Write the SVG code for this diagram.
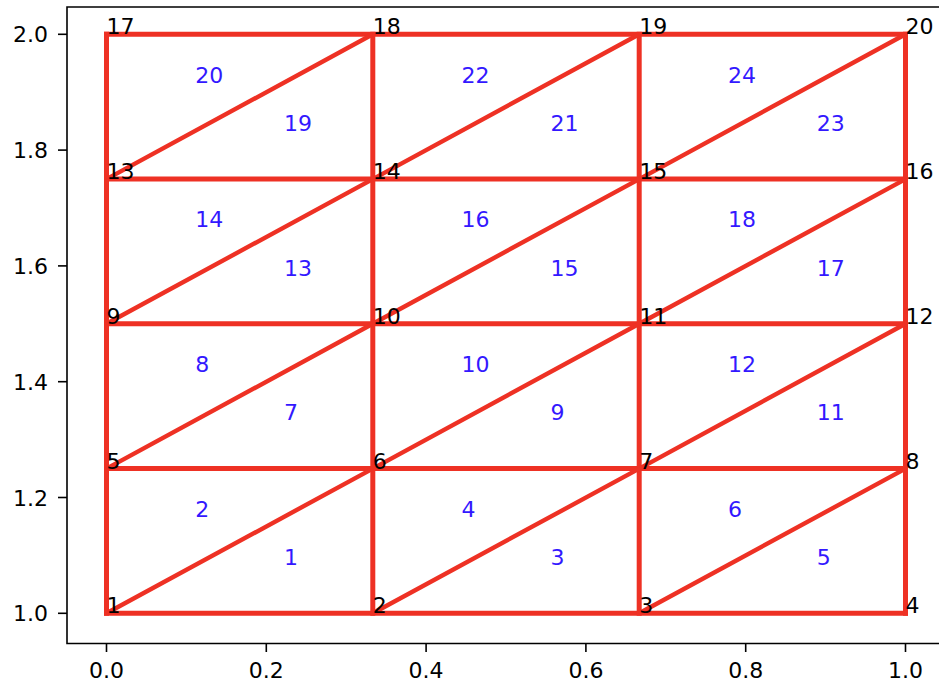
<svg xmlns="http://www.w3.org/2000/svg" width="939" height="684" viewBox="0 0 939 684">
<style>
  .bg{fill:#ffffff}
  .spine{stroke:#000;stroke-width:1.6;fill:none}
  .tick{stroke:#000;stroke-width:1.6}
  .tl{font-family:"DejaVu Sans",sans-serif;font-size:22px;fill:#000}
  .ty{text-anchor:end}
  .tx{text-anchor:middle}
  .edge{stroke:#ee3124;stroke-width:5;fill:none;stroke-linecap:square}
  .diag{stroke:#ee3124;stroke-width:4.4;fill:none;stroke-linecap:butt}
  .nl{font-family:"DejaVu Sans",sans-serif;font-size:22px;fill:#000}
  .el{font-family:"DejaVu Sans",sans-serif;font-size:22px;fill:#3318ff}
</style>
<rect class="bg" x="0" y="0" width="939" height="684"/>
<g id="axes">
  <path class="spine" d="M939 7 H67 V643.5 H939"/>
  <g id="yticks">
    <line class="tick" x1="58" y1="613.3" x2="67" y2="613.3"/>
    <line class="tick" x1="58" y1="497.5" x2="67" y2="497.5"/>
    <line class="tick" x1="58" y1="381.7" x2="67" y2="381.7"/>
    <line class="tick" x1="58" y1="265.9" x2="67" y2="265.9"/>
    <line class="tick" x1="58" y1="150.1" x2="67" y2="150.1"/>
    <line class="tick" x1="58" y1="34.3" x2="67" y2="34.3"/>
    <text class="tl ty" x="48" y="621.3">1.0</text>
    <text class="tl ty" x="48" y="505.5">1.2</text>
    <text class="tl ty" x="48" y="389.7">1.4</text>
    <text class="tl ty" x="48" y="273.9">1.6</text>
    <text class="tl ty" x="48" y="158.1">1.8</text>
    <text class="tl ty" x="48" y="42.3">2.0</text>
  </g>
  <g id="xticks">
    <line class="tick" x1="106.5" y1="643.5" x2="106.5" y2="652"/>
    <line class="tick" x1="266.3" y1="643.5" x2="266.3" y2="652"/>
    <line class="tick" x1="426.1" y1="643.5" x2="426.1" y2="652"/>
    <line class="tick" x1="585.9" y1="643.5" x2="585.9" y2="652"/>
    <line class="tick" x1="745.7" y1="643.5" x2="745.7" y2="652"/>
    <line class="tick" x1="905.5" y1="643.5" x2="905.5" y2="652"/>
    <text class="tl tx" x="106.5" y="678">0.0</text>
    <text class="tl tx" x="266.3" y="678">0.2</text>
    <text class="tl tx" x="426.1" y="678">0.4</text>
    <text class="tl tx" x="585.9" y="678">0.6</text>
    <text class="tl tx" x="745.7" y="678">0.8</text>
    <text class="tl tx" x="905.5" y="678">1.0</text>
  </g>
</g>
<g id="connectors">
  <path class="edge" d="M106.5 613.3 H905.5 M106.5 468.6 H905.5 M106.5 323.8 H905.5 M106.5 179.1 H905.5 M106.5 34.3 H905.5"/>
  <path class="edge" d="M106.5 613.3 V34.3 M372.8 613.3 V34.3 M639.2 613.3 V34.3 M905.5 613.3 V34.3"/>
  <path class="diag" d="M106.5 613.3 L372.8 468.6 M372.8 613.3 L639.2 468.6 M639.2 613.3 L905.5 468.6
    M106.5 468.6 L372.8 323.8 M372.8 468.6 L639.2 323.8 M639.2 468.6 L905.5 323.8
    M106.5 323.8 L372.8 179.1 M372.8 323.8 L639.2 179.1 M639.2 323.8 L905.5 179.1
    M106.5 179.1 L372.8 34.3 M372.8 179.1 L639.2 34.3 M639.2 179.1 L905.5 34.3"/>
</g>
<g id="nodes">
  <g id="node1"><text class="nl" x="106.5" y="613.3">1</text></g>
  <g id="node2"><text class="nl" x="372.8" y="613.3">2</text></g>
  <g id="node3"><text class="nl" x="639.2" y="613.3">3</text></g>
  <g id="node4"><text class="nl" x="905.5" y="613.3">4</text></g>
  <g id="node5"><text class="nl" x="106.5" y="468.6">5</text></g>
  <g id="node6"><text class="nl" x="372.8" y="468.6">6</text></g>
  <g id="node7"><text class="nl" x="639.2" y="468.6">7</text></g>
  <g id="node8"><text class="nl" x="905.5" y="468.6">8</text></g>
  <g id="node9"><text class="nl" x="106.5" y="323.8">9</text></g>
  <g id="node10"><text class="nl" x="372.8" y="323.8">10</text></g>
  <g id="node11"><text class="nl" x="639.2" y="323.8">11</text></g>
  <g id="node12"><text class="nl" x="905.5" y="323.8">12</text></g>
  <g id="node13"><text class="nl" x="106.5" y="179.1">13</text></g>
  <g id="node14"><text class="nl" x="372.8" y="179.1">14</text></g>
  <g id="node15"><text class="nl" x="639.2" y="179.1">15</text></g>
  <g id="node16"><text class="nl" x="905.5" y="179.1">16</text></g>
  <g id="node17"><text class="nl" x="106.5" y="34.3">17</text></g>
  <g id="node18"><text class="nl" x="372.8" y="34.3">18</text></g>
  <g id="node19"><text class="nl" x="639.2" y="34.3">19</text></g>
  <g id="node20"><text class="nl" x="905.5" y="34.3">20</text></g>
</g>
<g id="elements">
  <g id="el1"><text class="el" x="284.1" y="565.1">1</text></g>
  <g id="el2"><text class="el" x="195.3" y="516.8">2</text></g>
  <g id="el3"><text class="el" x="550.4" y="565.1">3</text></g>
  <g id="el4"><text class="el" x="461.6" y="516.8">4</text></g>
  <g id="el5"><text class="el" x="816.7" y="565.1">5</text></g>
  <g id="el6"><text class="el" x="727.9" y="516.8">6</text></g>
  <g id="el7"><text class="el" x="284.1" y="420.3">7</text></g>
  <g id="el8"><text class="el" x="195.3" y="372.1">8</text></g>
  <g id="el9"><text class="el" x="550.4" y="420.3">9</text></g>
  <g id="el10"><text class="el" x="461.6" y="372.1">10</text></g>
  <g id="el11"><text class="el" x="816.7" y="420.3">11</text></g>
  <g id="el12"><text class="el" x="727.9" y="372.1">12</text></g>
  <g id="el13"><text class="el" x="284.1" y="275.6">13</text></g>
  <g id="el14"><text class="el" x="195.3" y="227.3">14</text></g>
  <g id="el15"><text class="el" x="550.4" y="275.6">15</text></g>
  <g id="el16"><text class="el" x="461.6" y="227.3">16</text></g>
  <g id="el17"><text class="el" x="816.7" y="275.6">17</text></g>
  <g id="el18"><text class="el" x="727.9" y="227.3">18</text></g>
  <g id="el19"><text class="el" x="284.1" y="130.8">19</text></g>
  <g id="el20"><text class="el" x="195.3" y="82.6">20</text></g>
  <g id="el21"><text class="el" x="550.4" y="130.8">21</text></g>
  <g id="el22"><text class="el" x="461.6" y="82.6">22</text></g>
  <g id="el23"><text class="el" x="816.7" y="130.8">23</text></g>
  <g id="el24"><text class="el" x="727.9" y="82.6">24</text></g>
</g>
</svg>
